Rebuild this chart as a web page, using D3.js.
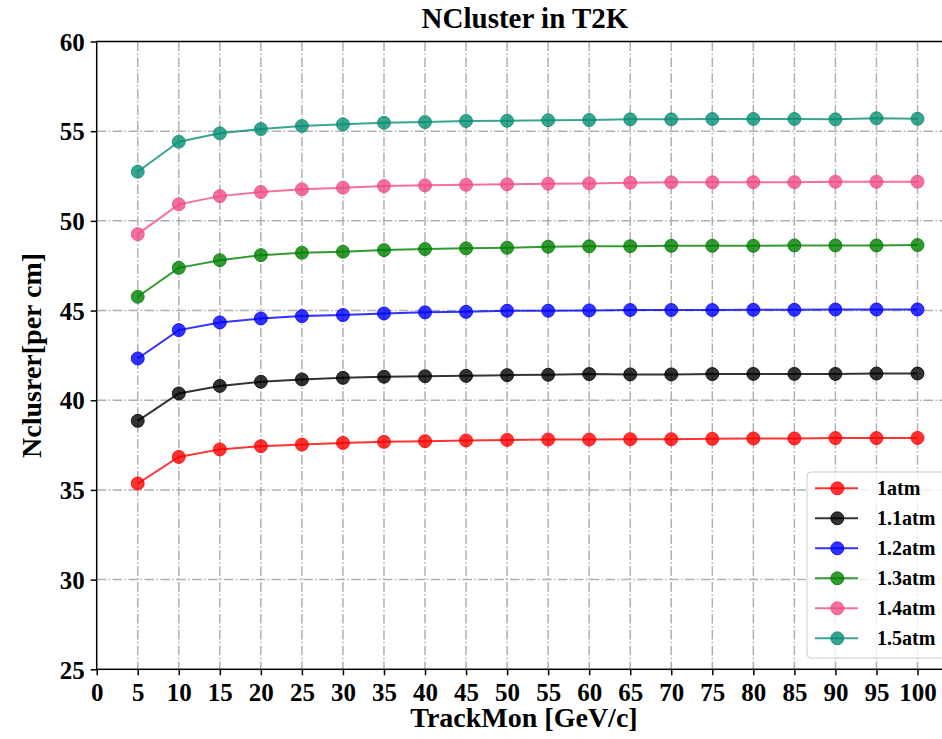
<!DOCTYPE html>
<html>
<head>
<meta charset="utf-8">
<script src="https://cdn.jsdelivr.net/npm/d3@7"></script>
<style>
  body { margin: 0; background: #fff; }
  svg { display: block; font-family: "Liberation Serif", "Times New Roman", serif; font-weight: bold; }
</style>
</head>
<body>
<svg id="chart" width="942" height="739"></svg>
<script>
// momentum values (GeV/c)
const momentum = [5, 10, 15, 20, 25, 30, 35, 40, 45, 50, 55, 60, 65, 70, 75, 80, 85, 90, 95, 100];

// cluster counts per pressure
const atm10 = [35.36, 36.84, 37.26, 37.44, 37.53, 37.62, 37.68, 37.72, 37.76, 37.79, 37.81, 37.81, 37.83, 37.83, 37.85, 37.87, 37.87, 37.89, 37.89, 37.90];
const atm11 = [38.85, 40.38, 40.80, 41.03, 41.16, 41.25, 41.31, 41.34, 41.36, 41.40, 41.42, 41.46, 41.44, 41.44, 41.46, 41.47, 41.47, 41.47, 41.49, 41.49];
const atm12 = [42.33, 43.91, 44.34, 44.56, 44.69, 44.75, 44.84, 44.90, 44.93, 44.99, 44.99, 45.01, 45.03, 45.03, 45.03, 45.04, 45.04, 45.06, 45.06, 45.06];
const atm13 = [45.77, 47.38, 47.81, 48.09, 48.22, 48.28, 48.37, 48.43, 48.47, 48.50, 48.56, 48.58, 48.59, 48.61, 48.61, 48.61, 48.63, 48.63, 48.63, 48.65];
const atm14 = [49.26, 50.92, 51.38, 51.61, 51.76, 51.85, 51.94, 51.98, 52.01, 52.04, 52.07, 52.09, 52.13, 52.15, 52.15, 52.16, 52.16, 52.18, 52.18, 52.18];
const atm15 = [52.74, 54.41, 54.88, 55.12, 55.29, 55.38, 55.47, 55.51, 55.57, 55.58, 55.61, 55.62, 55.66, 55.66, 55.68, 55.68, 55.68, 55.66, 55.72, 55.69];

const seriesNames = ["1atm", "1.1atm", "1.2atm", "1.3atm", "1.4atm", "1.5atm"];
const seriesValues = [atm10, atm11, atm12, atm13, atm14, atm15];
const seriesColors = ["#ff0000", "#000000", "#0000ff", "#008000", "#f04c86", "#078f74"];

const xTicks = d3.range(0, 101, 5);
const yTicks = [25, 30, 35, 40, 45, 50, 55, 60];

const svg = d3.select("#chart");
const margin = { top: 41.5, left: 96.7, bottom: 669.3, right: 965 };

const x = d3.scaleLinear().domain([0, 100]).range([margin.left, 917.5]);
const y = d3.scaleLinear().domain([25, 60]).range([margin.bottom, margin.top]);

// grid
const grid = svg.append("g")
  .attr("stroke", "#b0b0b0")
  .attr("stroke-width", 1.5)
  .attr("stroke-dasharray", "9.6,2.4,1.5,2.4");

grid.selectAll(".vg")
  .data(xTicks.filter(d => d > 0))
  .join("line")
  .attr("x1", d => x(d)).attr("x2", d => x(d))
  .attr("y1", margin.top).attr("y2", margin.bottom);

grid.selectAll(".hg")
  .data(yTicks.filter(d => d > 25 && d < 60))
  .join("line")
  .attr("x1", margin.left).attr("x2", margin.right)
  .attr("y1", d => y(d)).attr("y2", d => y(d));

// axes
const xAxis = svg.append("g")
  .attr("transform", `translate(0,${margin.bottom})`)
  .call(d3.axisBottom(x).tickValues(xTicks).tickSizeOuter(0).tickSize(6).tickPadding(6));

const yAxis = svg.append("g")
  .attr("transform", `translate(${margin.left},0)`)
  .call(d3.axisLeft(y).tickValues(yTicks).tickSizeOuter(0).tickSize(6).tickPadding(6));

[xAxis, yAxis].forEach(ax => {
  ax.select(".domain").remove();
  ax.selectAll(".tick line").attr("stroke", "#000").attr("stroke-width", 1.5);
  ax.selectAll(".tick text")
    .attr("fill", "#000")
    .style("font-family", "'Liberation Serif', serif")
    .style("font-weight", "bold")
    .style("font-size", "25px");
});
xAxis.selectAll(".tick text").attr("dy", "0.8em");
yAxis.selectAll(".tick text").attr("dy", "0.35em");

// frame (right side runs past the canvas edge)
svg.append("rect")
  .attr("x", margin.left)
  .attr("y", margin.top)
  .attr("width", margin.right - margin.left)
  .attr("height", margin.bottom - margin.top)
  .attr("fill", "none")
  .attr("stroke", "#000")
  .attr("stroke-width", 1.5);

// lines + markers
const line = d3.line()
  .x((d, i) => x(momentum[i]))
  .y(d => y(d));

seriesValues.forEach((vals, k) => {
  const g = svg.append("g");
  g.append("path")
    .datum(vals)
    .attr("d", line)
    .attr("fill", "none")
    .attr("stroke", seriesColors[k])
    .attr("stroke-opacity", 0.8)
    .attr("stroke-width", 2);
  g.selectAll("circle")
    .data(vals)
    .join("circle")
    .attr("cx", (d, i) => x(momentum[i]))
    .attr("cy", d => y(d))
    .attr("r", 6.5)
    .attr("fill", seriesColors[k])
    .attr("fill-opacity", 0.8)
    .attr("stroke", seriesColors[k])
    .attr("stroke-opacity", 0.8)
    .attr("stroke-width", 1);
});

// legend
const legend = svg.append("g").attr("transform", "translate(807,472)");
legend.append("rect")
  .attr("width", 160)
  .attr("height", 186)
  .attr("rx", 4)
  .attr("fill", "#fff")
  .attr("fill-opacity", 0.8)
  .attr("stroke", "#cccccc")
  .attr("stroke-width", 1);

seriesNames.forEach((name, k) => {
  const row = legend.append("g").attr("transform", `translate(0,${16.3 + k * 30})`);
  row.append("line")
    .attr("x1", 8).attr("x2", 51)
    .attr("stroke", seriesColors[k])
    .attr("stroke-opacity", 0.8)
    .attr("stroke-width", 2);
  row.append("circle")
    .attr("cx", 30.3)
    .attr("r", 6.5)
    .attr("fill", seriesColors[k])
    .attr("fill-opacity", 0.8)
    .attr("stroke", seriesColors[k])
    .attr("stroke-opacity", 0.8);
  row.append("text")
    .attr("x", 70)
    .attr("dy", "0.35em")
    .style("font-size", "20px")
    .text(name);
});

// titles
svg.append("text")
  .attr("x", 525)
  .attr("y", 28)
  .attr("text-anchor", "middle")
  .style("font-size", "29px")
  .text("NCluster in T2K");

svg.append("text")
  .attr("x", 524)
  .attr("y", 727)
  .attr("text-anchor", "middle")
  .style("font-size", "28px")
  .text("TrackMon [GeV/c]");

svg.append("text")
  .attr("transform", `translate(41,${(margin.top + margin.bottom) / 2}) rotate(-90)`)
  .attr("text-anchor", "middle")
  .style("font-size", "28px")
  .text("Nclusrer[per cm]");
</script>
</body>
</html>
